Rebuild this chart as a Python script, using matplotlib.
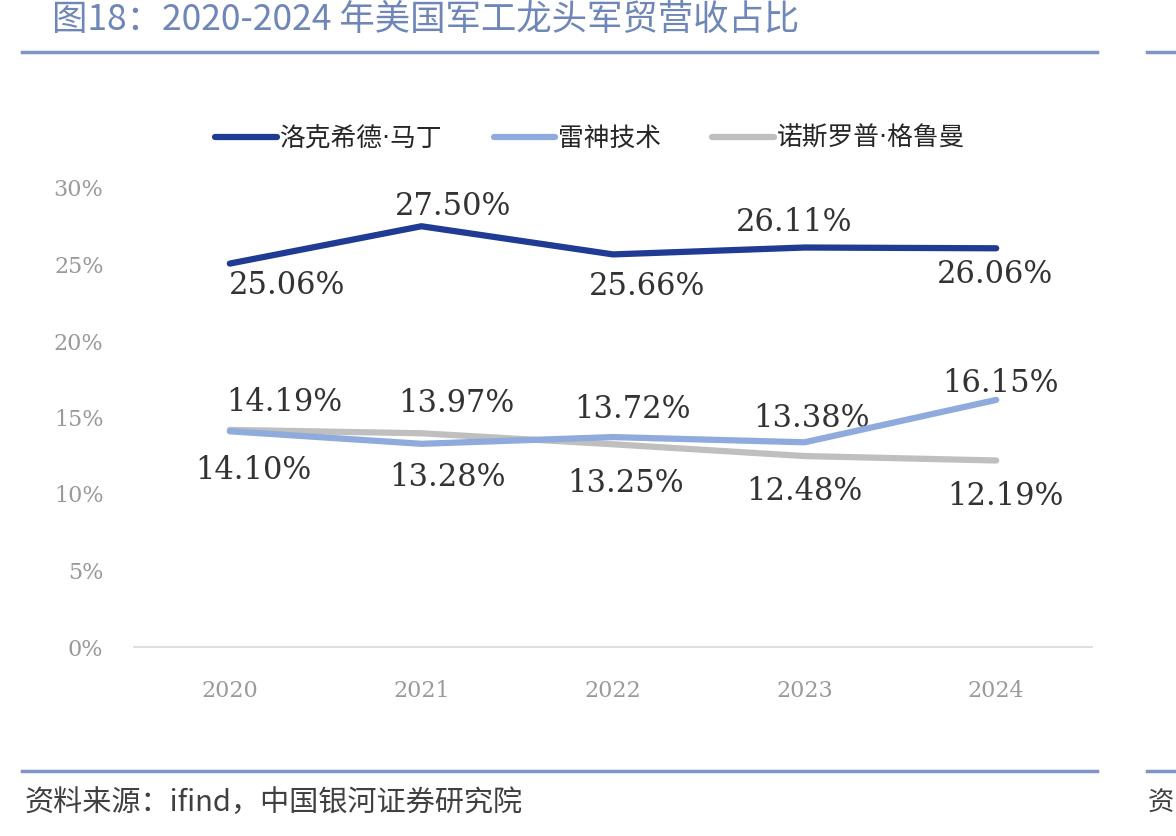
import matplotlib.pyplot as plt
from matplotlib.lines import Line2D

plt.rcParams['font.family'] = ['Noto Sans CJK SC', 'DejaVu Sans']

years = ["2020", "2021", "2022", "2023", "2024"]
lockheed = [25.06, 27.50, 25.66, 26.11, 26.06]
raytheon = [14.10, 13.28, 13.72, 13.38, 16.15]
northrop = [14.19, 13.97, 13.25, 12.48, 12.19]
names = ["洛克希德·马丁", "雷神技术", "诺斯罗普·格鲁曼"]
y_ticks = [0, 5, 10, 15, 20, 25, 30]

# label offsets in pixels (dx, dy up)
lm_off = [(57, -22), (32, 20), (34, -32), (-10, 25), (-1, -26)]
rtx_off = [(24, -39), (26, -34), (20, 28), (7, 24), (4, 16)]
noc_off = [(55, 27), (35, 30), (13, -39), (0, -35), (9, -36)]

num_font = ['DejaVu Serif', 'Noto Sans CJK SC']

fig = plt.figure(figsize=(11.76, 8.36), dpi=100)
ax = fig.add_axes([134 / 1176, 1 - 647 / 836, 958 / 1176, 459 / 836])

x = list(range(len(years)))
series = [
    (lockheed, "#1F3B93", lm_off),
    (raytheon, "#8FAADC", rtx_off),
    (northrop, "#BFBFBF", noc_off),
]
for idx in [2, 1, 0]:
    vals, col, offs = series[idx]
    ax.plot(x, vals, color=col, lw=4.5, solid_capstyle='round', label=names[idx], zorder=3 + (2 - idx))

for vals, col, offs in series:
    for i, v in enumerate(vals):
        ax.annotate(f"{v:.2f}%", (i, v), xytext=offs[i], textcoords='offset pixels',
                    ha='center', va='center', fontsize=22, color='#333333',
                    family=num_font)

ax.set_xlim(-0.5, 4.5)
ax.set_ylim(0, 30)
ax.set_xticks(x)
ax.set_xticklabels(years)
ax.set_yticks(y_ticks)
ax.set_yticklabels([f"{t}%" for t in y_ticks])
for lab in ax.get_xticklabels() + ax.get_yticklabels():
    lab.set_family(num_font)
    lab.set_fontsize(16)
    lab.set_color('#9A9A9A')
ax.tick_params(axis='both', length=0)
ax.tick_params(axis='x', pad=24)
ax.tick_params(axis='y', pad=22)
for s in ['top', 'right', 'left']:
    ax.spines[s].set_visible(False)
ax.spines['bottom'].set_color('#D9D9D9')
ax.spines['bottom'].set_linewidth(1.2)

handles, labels = ax.get_legend_handles_labels()
order = [labels.index(n) for n in names]
leg = fig.legend([handles[i] for i in order], [labels[i] for i in order],
                 loc='center', bbox_to_anchor=(590 / 1176, 1 - 139 / 836), ncol=3,
                 frameon=False, fontsize=18.5, handlelength=2.4, handletextpad=0.1,
                 columnspacing=2.0)
for t in leg.get_texts():
    t.set_color('#262626')
    t.set_family(['DejaVu Sans', 'Noto Sans CJK SC'])

# title and source
fig.text(52 / 1176, 1 - 20 / 836, "图18：2020-2024 年美国军工龙头军贸营收占比",
         fontsize=25.5, color='#6F86B8', ha='left', va='center')
fig.text(25 / 1176, 1 - 803 / 836, "资料来源：ifind，中国银河证券研究院",
         fontsize=21, color='#404040', ha='left', va='center', style='italic')
fig.text(1148 / 1176, 1 - 803 / 836, "资",
         fontsize=19, color='#404040', ha='left', va='center', style='italic')

for yy in [52, 771]:
    fig.add_artist(Line2D([22 / 1176, 1097 / 1176], [1 - yy / 836] * 2, color='#7F96C4', lw=2.5))
    fig.add_artist(Line2D([1147 / 1176, 1.0], [1 - yy / 836] * 2, color='#7F96C4', lw=2.5))

fig.savefig("out.png", dpi=100, facecolor='white')
